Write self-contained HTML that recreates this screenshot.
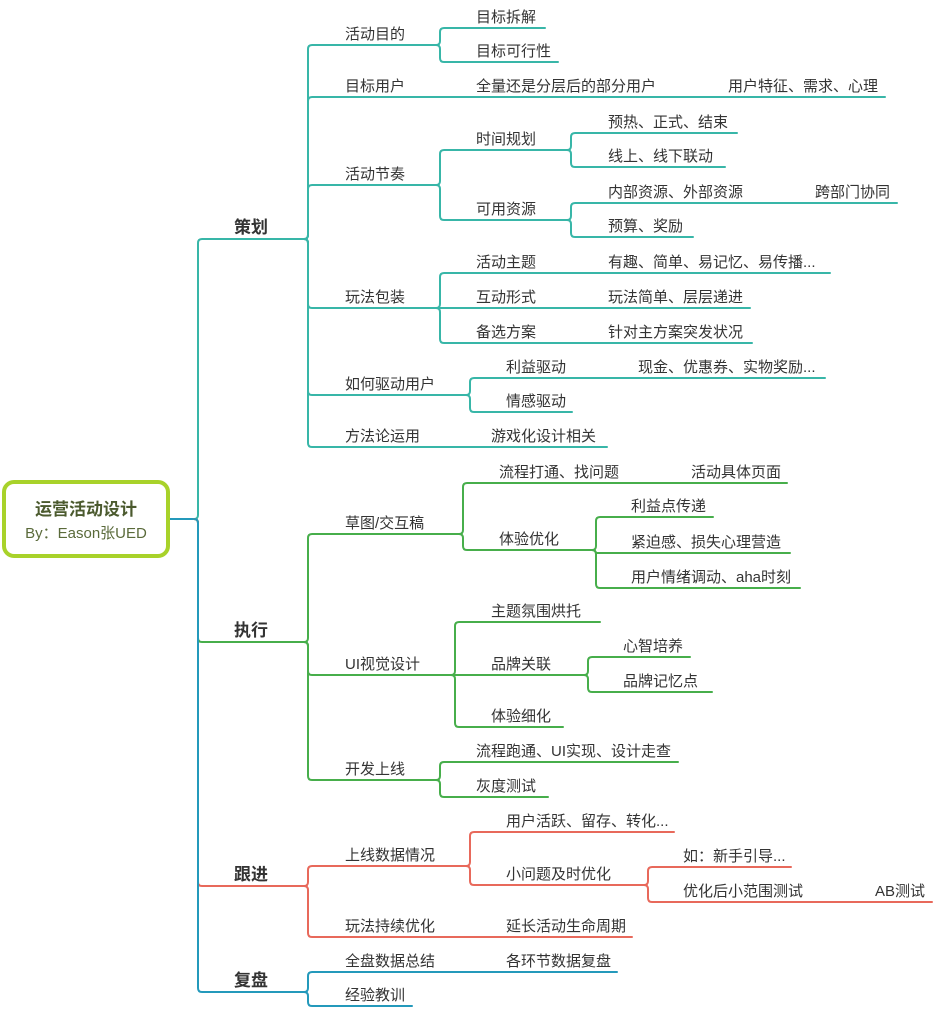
<!DOCTYPE html>
<html><head><meta charset="utf-8"><style>
html,body{margin:0;padding:0;background:#fff;}
svg{display:block;}
text{font-family:"Liberation Sans","Noto Sans CJK SC",sans-serif;font-size:15px;fill:#333;}
.m{font-size:17px;font-weight:bold;fill:#333;}
path{fill:none;stroke-width:2;stroke-linecap:round;}
.t{stroke:#38b6a8}.g{stroke:#47ae4b}.r{stroke:#e8695b}.b{stroke:#2499bb}
</style></head><body>
<svg width="936" height="1012" viewBox="0 0 936 1012" xmlns="http://www.w3.org/2000/svg">
<path class="b" d="M169 519 L194 519"/>
<path class="t" d="M194 519 Q198 519 198 515 L198 243 Q198 239 202 239 L304 239"/>
<path class="g" d="M194 519 Q198 519 198 523 L198 638 Q198 642 202 642 L304 642"/>
<path class="r" d="M194 519 Q198 519 198 523 L198 882 Q198 886 202 886 L304 886"/>
<path class="b" d="M194 519 Q198 519 198 523 L198 988 Q198 992 202 992 L304 992"/>

<path class="t" d="M304 239 Q308 239 308 235 L308 49 Q308 45 312 45 L436 45"/>
<path class="t" d="M304 239 Q308 239 308 235 L308 101 Q308 97 312 97 L885 97"/>
<path class="t" d="M304 239 Q308 239 308 235 L308 189 Q308 185 312 185 L436 185"/>
<path class="t" d="M304 239 Q308 239 308 243 L308 304 Q308 308 312 308 L436 308"/>
<path class="t" d="M304 239 Q308 239 308 243 L308 391 Q308 395 312 395 L466 395"/>
<path class="t" d="M304 239 Q308 239 308 243 L308 443 Q308 447 312 447 L607 447"/>
<path class="t" d="M436 45 Q440 45 440 41 L440 32 Q440 28 444 28 L545 28"/>
<path class="t" d="M436 45 Q440 45 440 49 L440 58 Q440 62 444 62 L558 62"/>
<path class="t" d="M436 185 Q440 185 440 181 L440 154 Q440 150 444 150 L567 150"/>
<path class="t" d="M436 185 Q440 185 440 189 L440 216 Q440 220 444 220 L567 220"/>
<path class="t" d="M567 150 Q571 150 571 146 L571 137 Q571 133 575 133 L737 133"/>
<path class="t" d="M567 150 Q571 150 571 154 L571 163 Q571 167 575 167 L725 167"/>
<path class="t" d="M567 220 Q571 220 571 216 L571 207 Q571 203 575 203 L897 203"/>
<path class="t" d="M567 220 Q571 220 571 224 L571 233 Q571 237 575 237 L693 237"/>
<path class="t" d="M436 308 Q440 308 440 304 L440 277 Q440 273 444 273 L830 273"/>
<path class="t" d="M436 308 L750 308"/>
<path class="t" d="M436 308 Q440 308 440 312 L440 339 Q440 343 444 343 L752 343"/>
<path class="t" d="M466 395 Q470 395 470 391 L470 382 Q470 378 474 378 L825 378"/>
<path class="t" d="M466 395 Q470 395 470 399 L470 408 Q470 412 474 412 L572 412"/>

<path class="g" d="M304 642 Q308 642 308 638 L308 538 Q308 534 312 534 L459 534"/>
<path class="g" d="M304 642 Q308 642 308 646 L308 671 Q308 675 312 675 L451 675"/>
<path class="g" d="M304 642 Q308 642 308 646 L308 776 Q308 780 312 780 L436 780"/>
<path class="g" d="M459 534 Q463 534 463 530 L463 487 Q463 483 467 483 L787 483"/>
<path class="g" d="M459 534 Q463 534 463 538 L463 546 Q463 550 467 550 L592 550"/>
<path class="g" d="M592 550 Q596 550 596 546 L596 521 Q596 517 600 517 L713 517"/>
<path class="g" d="M592 550 Q596 550 596 554 L596 553 L790 553"/>
<path class="g" d="M592 550 Q596 550 596 554 L596 584 Q596 588 600 588 L800 588"/>
<path class="g" d="M451 675 Q455 675 455 671 L455 626 Q455 622 459 622 L600 622"/>
<path class="g" d="M451 675 L584 675"/>
<path class="g" d="M451 675 Q455 675 455 679 L455 723 Q455 727 459 727 L563 727"/>
<path class="g" d="M584 675 Q588 675 588 671 L588 661 Q588 657 592 657 L690 657"/>
<path class="g" d="M584 675 Q588 675 588 679 L588 688 Q588 692 592 692 L712 692"/>
<path class="g" d="M436 780 Q440 780 440 776 L440 766 Q440 762 444 762 L678 762"/>
<path class="g" d="M436 780 Q440 780 440 784 L440 793 Q440 797 444 797 L548 797"/>

<path class="r" d="M304 886 Q308 886 308 882 L308 870 Q308 866 312 866 L466 866"/>
<path class="r" d="M304 886 Q308 886 308 890 L308 933 Q308 937 312 937 L632 937"/>
<path class="r" d="M466 866 Q470 866 470 862 L470 836 Q470 832 474 832 L674 832"/>
<path class="r" d="M466 866 Q470 866 470 870 L470 881 Q470 885 474 885 L644 885"/>
<path class="r" d="M644 885 Q648 885 648 881 L648 871 Q648 867 652 867 L791 867"/>
<path class="r" d="M644 885 Q648 885 648 889 L648 898 Q648 902 652 902 L932 902"/>

<path class="b" d="M304 992 Q308 992 308 988 L308 976 Q308 972 312 972 L617 972"/>
<path class="b" d="M304 992 Q308 992 308 996 L308 1002 Q308 1006 312 1006 L412 1006"/>

<rect x="4" y="482" width="164" height="74" rx="10" fill="#fff" stroke="#a8d22a" stroke-width="4"/>
<text x="86" y="515" text-anchor="middle" style="font-size:17px;font-weight:bold;fill:#4b5a2e">运营活动设计</text>
<text x="86" y="538" text-anchor="middle" style="font-size:15px;fill:#5a6a3a">By：Eason张UED</text>

<text class="m" x="234" y="233">策划</text>
<text class="m" x="234" y="636">执行</text>
<text class="m" x="234" y="880">跟进</text>
<text class="m" x="234" y="986">复盘</text>

<text x="345" y="39">活动目的</text>
<text x="476" y="22">目标拆解</text>
<text x="476" y="56">目标可行性</text>
<text x="345" y="91">目标用户</text>
<text x="476" y="91">全量还是分层后的部分用户</text>
<text x="728" y="91">用户特征、需求、心理</text>
<text x="345" y="179">活动节奏</text>
<text x="476" y="144">时间规划</text>
<text x="608" y="127">预热、正式、结束</text>
<text x="608" y="161">线上、线下联动</text>
<text x="476" y="214">可用资源</text>
<text x="608" y="197">内部资源、外部资源</text>
<text x="815" y="197">跨部门协同</text>
<text x="608" y="231">预算、奖励</text>
<text x="345" y="302">玩法包装</text>
<text x="476" y="267">活动主题</text>
<text x="608" y="267">有趣、简单、易记忆、易传播...</text>
<text x="476" y="302">互动形式</text>
<text x="608" y="302">玩法简单、层层递进</text>
<text x="476" y="337">备选方案</text>
<text x="608" y="337">针对主方案突发状况</text>
<text x="345" y="389">如何驱动用户</text>
<text x="506" y="372">利益驱动</text>
<text x="638" y="372">现金、优惠券、实物奖励...</text>
<text x="506" y="406">情感驱动</text>
<text x="345" y="441">方法论运用</text>
<text x="491" y="441">游戏化设计相关</text>

<text x="345" y="528">草图/交互稿</text>
<text x="499" y="477">流程打通、找问题</text>
<text x="691" y="477">活动具体页面</text>
<text x="499" y="544">体验优化</text>
<text x="631" y="511">利益点传递</text>
<text x="631" y="547">紧迫感、损失心理营造</text>
<text x="631" y="582">用户情绪调动、aha时刻</text>
<text x="345" y="669">UI视觉设计</text>
<text x="491" y="616">主题氛围烘托</text>
<text x="491" y="669">品牌关联</text>
<text x="623" y="651">心智培养</text>
<text x="623" y="686">品牌记忆点</text>
<text x="491" y="721">体验细化</text>
<text x="345" y="774">开发上线</text>
<text x="476" y="756">流程跑通、UI实现、设计走查</text>
<text x="476" y="791">灰度测试</text>

<text x="345" y="860">上线数据情况</text>
<text x="506" y="826">用户活跃、留存、转化...</text>
<text x="506" y="879">小问题及时优化</text>
<text x="683" y="861">如：新手引导...</text>
<text x="683" y="896">优化后小范围测试</text>
<text x="875" y="896">AB测试</text>
<text x="345" y="931">玩法持续优化</text>
<text x="506" y="931">延长活动生命周期</text>

<text x="345" y="966">全盘数据总结</text>
<text x="506" y="966">各环节数据复盘</text>
<text x="345" y="1000">经验教训</text>
</svg>
</body></html>
